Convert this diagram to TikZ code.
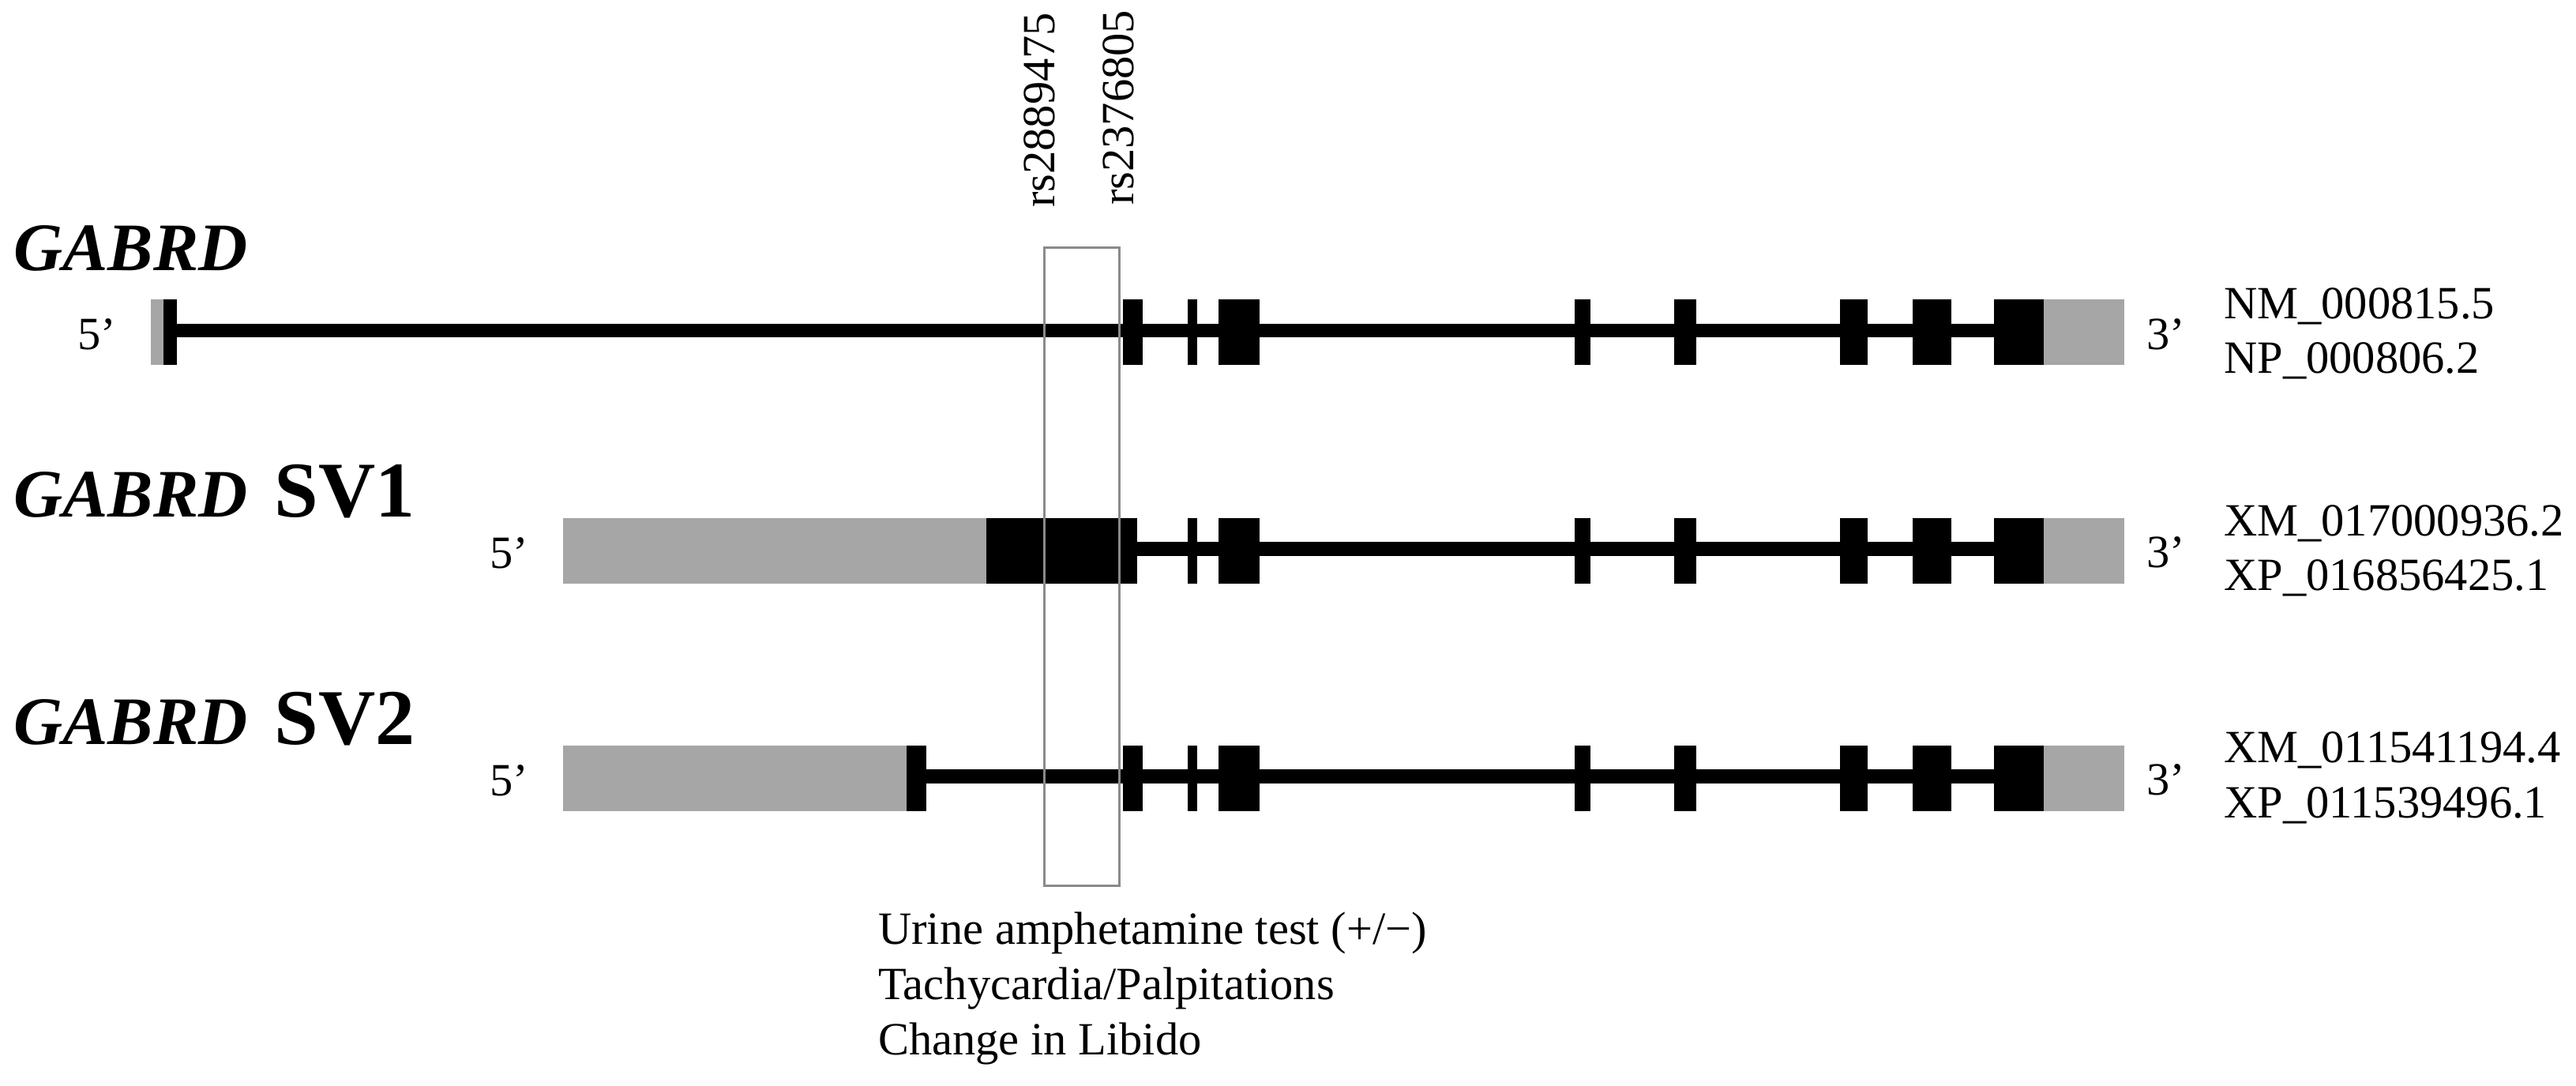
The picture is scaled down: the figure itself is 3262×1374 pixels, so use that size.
\documentclass[tikz,border=0pt]{standalone}
\usepackage{fontspec}
\setmainfont{Liberation Serif}
\definecolor{utr}{HTML}{A6A6A6}
\definecolor{snpgray}{HTML}{8A8A8A}
\begin{document}
\begin{tikzpicture}[x=1pt,y=-1pt,
  txt/.style={inner sep=0pt, font=\fontsize{58.5}{70}\selectfont},
  ttl/.style={inner sep=0pt, anchor=base west, font=\fontsize{86}{90}\selectfont\bfseries},
  intron/.style={line width=17.5pt},
  utrbox/.style={fill=utr},
  exonbox/.style={fill=black},
  snpbox/.style={draw=snpgray, line width=3pt}]
\useasboundingbox (0,0) rectangle (3262,1374);
% common exons of all three transcripts
\foreach \c in {418.5,695,983}{
  \foreach \a/\b in {1504/1516,1543/1595,1994/2014,2120/2148,2330/2365,2422/2471,2525/2588}
    \fill[exonbox] (\a,\c-39.5) rectangle (\b,\c+43.5);
  \fill[utrbox] (2588,\c-39.5) rectangle (2690,\c+43.5);
}
% row 1 GABRD
\draw[intron] (224,418.5) -- (2525,418.5);
\fill[utrbox] (191,379) rectangle (207,462);
\fill[exonbox] (207,379) rectangle (224,462);
\fill[exonbox] (1422,379) rectangle (1447,462);
% row 2 SV1
\draw[intron] (1440,695) -- (2525,695);
\fill[utrbox] (713,655.5) rectangle (1249,738.5);
\fill[exonbox] (1249,655.5) rectangle (1440,738.5);
% row 3 SV2
\draw[intron] (1173,983) -- (2525,983);
\fill[utrbox] (713,943.5) rectangle (1148,1026.5);
\fill[exonbox] (1148,943.5) rectangle (1173,1026.5);
\fill[exonbox] (1422,943.5) rectangle (1447,1026.5);
% SNP box
\draw[snpbox] (1322,313) rectangle (1417,1121);
% titles
\node[ttl] (t1) at (17,342) {\itshape GABRD};
\node[ttl] (t2) at (17,654) {{\itshape GABRD}\hspace{0.4em}{\fontsize{100}{100}\selectfont SV1}};
\node[ttl] (t3) at (17,942) {{\itshape GABRD}\hspace{0.4em}{\fontsize{100}{100}\selectfont SV2}};
% 5' / 3'
\node[txt, anchor=base east] (f1) at (147,442.5) {5’};
\node[txt, anchor=base east] (f2) at (669,719) {5’};
\node[txt, anchor=base east] (f3) at (669,1007) {5’};
\node[txt, anchor=base west] (e1) at (2718,442) {3’};
\node[txt, anchor=base west] (e2) at (2718,718) {3’};
\node[txt, anchor=base west] (e3) at (2718,1006) {3’};
% accessions
\node[txt, anchor=base west] (a1) at (2816,403) {NM\_000815.5};
\node[txt, anchor=base west] (p1) at (2816,472) {NP\_000806.2};
\node[txt, anchor=base west] (a2) at (2816,678) {XM\_017000936.2};
\node[txt, anchor=base west] (p2) at (2816,747.5) {XP\_016856425.1};
\node[txt, anchor=base west] (a3) at (2816,965) {XM\_011541194.4};
\node[txt, anchor=base west] (p3) at (2816,1035) {XP\_011539496.1};
% SNP labels
\node[txt, rotate=90, anchor=base west] (s1) at (1335,263) {rs2889475};
\node[txt, rotate=90, anchor=base west] (s2) at (1435,260) {rs2376805};
% phenotypes
\node[txt, anchor=base west] (ph1) at (1112,1195) {Urine amphetamine test (+/−)};
\node[txt, anchor=base west] (ph2) at (1112,1265) {Tachycardia/Palpitations};
\node[txt, anchor=base west] (ph3) at (1112,1335) {Change in Libido};
\end{tikzpicture}
\end{document}
